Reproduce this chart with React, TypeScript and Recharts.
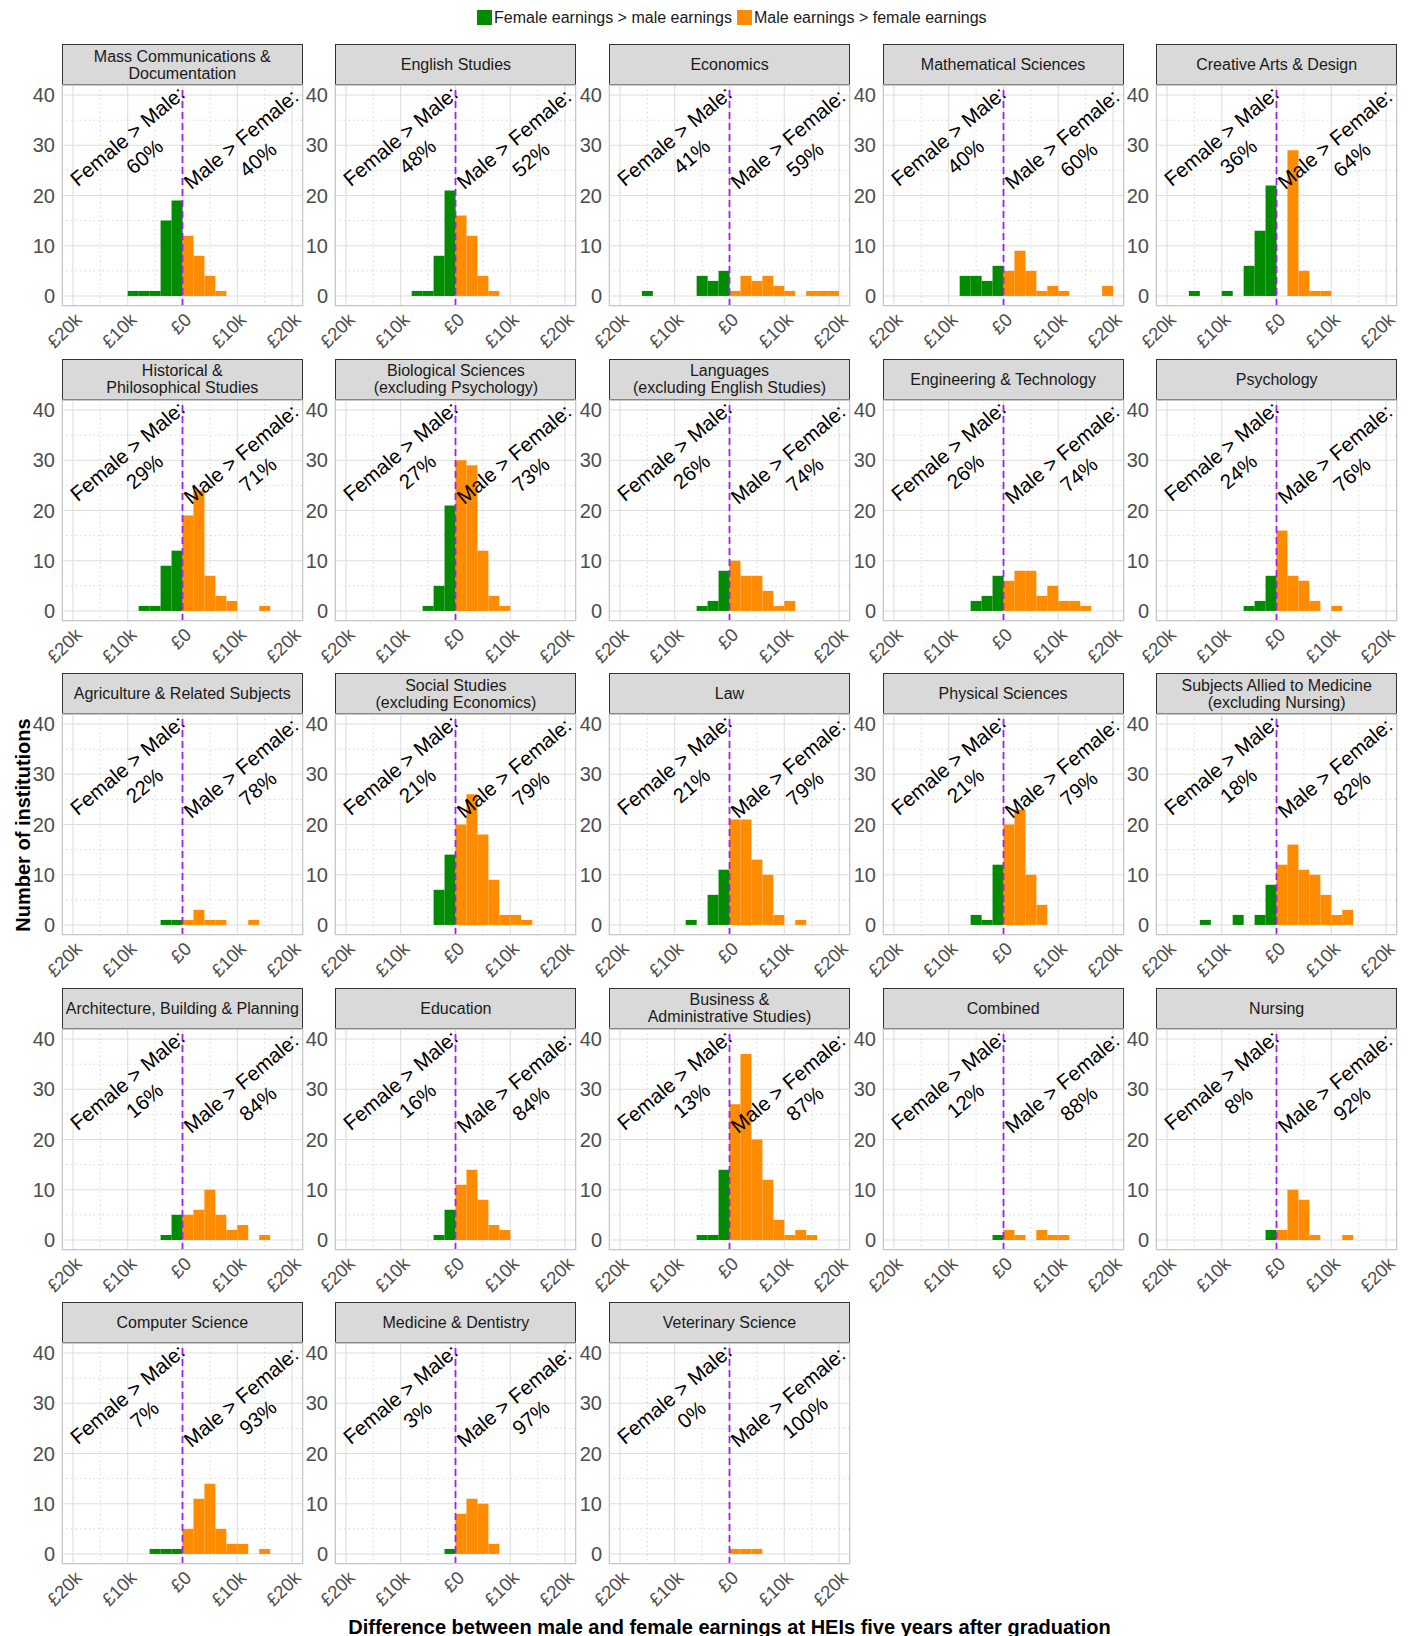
import React from 'react';
import { BarChart, Bar, XAxis, YAxis, CartesianGrid, ReferenceLine, ReferenceDot } from 'recharts';

const FONT = '"Liberation Sans", Arial, Helvetica, sans-serif';

// histogram bins (2k wide), centres
const binCenters = [-21000, -19000, -17000, -15000, -13000, -11000, -9000, -7000, -5000, -3000, -1000, 1000, 3000, 5000, 7000, 9000, 11000, 13000, 15000, 17000, 19000, 21000];
const xMajorTicks = [-20000, -10000, 0, 10000, 20000];
const xMinorTicks = [-15000, -5000, 5000, 15000];
const yMajorTicks = [0, 10, 20, 30, 40];
const yMinorTicks = [5, 15, 25, 35];

const panelTitles = [
  'Mass Communications &\nDocumentation',
  'English Studies',
  'Economics',
  'Mathematical Sciences',
  'Creative Arts & Design',
  'Historical &\nPhilosophical Studies',
  'Biological Sciences\n(excluding Psychology)',
  'Languages\n(excluding English Studies)',
  'Engineering & Technology',
  'Psychology',
  'Agriculture & Related Subjects',
  'Social Studies\n(excluding Economics)',
  'Law',
  'Physical Sciences',
  'Subjects Allied to Medicine\n(excluding Nursing)',
  'Architecture, Building & Planning',
  'Education',
  'Business &\nAdministrative Studies)',
  'Combined',
  'Nursing',
  'Computer Science',
  'Medicine & Dentistry',
  'Veterinary Science',
];

const femaleSharePct = [60, 48, 41, 40, 36, 29, 27, 26, 26, 24, 22, 21, 21, 21, 18, 16, 16, 13, 12, 8, 7, 3, 0];
const maleSharePct = [40, 52, 59, 60, 64, 71, 73, 74, 74, 76, 78, 79, 79, 79, 82, 84, 84, 87, 88, 92, 93, 97, 100];

// counts per 2k bin, from -22k..-20k up to 20k..22k
const massCommunications = [0, 0, 0, 0, 0, 0, 1, 1, 1, 15, 19, 12, 8, 4, 1, 0, 0, 0, 0, 0, 0, 0];
const englishStudies = [0, 0, 0, 0, 0, 0, 0, 1, 1, 8, 21, 16, 12, 4, 1, 0, 0, 0, 0, 0, 0, 0];
const economics = [0, 0, 0, 1, 0, 0, 0, 0, 4, 3, 5, 1, 4, 3, 4, 2, 1, 0, 1, 1, 1, 0];
const mathematicalSciences = [0, 0, 0, 0, 0, 0, 0, 4, 4, 3, 6, 5, 9, 5, 1, 2, 1, 0, 0, 0, 2, 0];
const creativeArts = [0, 0, 0, 1, 0, 0, 1, 0, 6, 13, 22, 0, 29, 5, 1, 1, 0, 0, 0, 0, 0, 0];
const historical = [0, 0, 0, 0, 0, 0, 0, 1, 1, 9, 12, 19, 24, 7, 3, 2, 0, 0, 1, 0, 0, 0];
const biological = [0, 0, 0, 0, 0, 0, 0, 0, 1, 5, 21, 30, 29, 12, 3, 1, 0, 0, 0, 0, 0, 0];
const languages = [0, 0, 0, 0, 0, 0, 0, 0, 1, 2, 8, 10, 7, 7, 4, 1, 2, 0, 0, 0, 0, 0];
const engineering = [0, 0, 0, 0, 0, 0, 0, 0, 2, 3, 7, 6, 8, 8, 3, 5, 2, 2, 1, 0, 0, 0];
const psychology = [0, 0, 0, 0, 0, 0, 0, 0, 1, 2, 7, 16, 7, 6, 2, 0, 1, 0, 0, 0, 0, 0];
const agriculture = [0, 0, 0, 0, 0, 0, 0, 0, 0, 1, 1, 1, 3, 1, 1, 0, 0, 1, 0, 0, 0, 0];
const socialStudies = [0, 0, 0, 0, 0, 0, 0, 0, 0, 7, 14, 20, 26, 18, 9, 2, 2, 1, 0, 0, 0, 0];
const law = [0, 0, 0, 0, 0, 0, 0, 1, 0, 6, 11, 21, 21, 13, 10, 2, 0, 1, 0, 0, 0, 0];
const physicalSciences = [0, 0, 0, 0, 0, 0, 0, 0, 2, 1, 12, 20, 23, 10, 4, 0, 0, 0, 0, 0, 0, 0];
const alliedToMedicine = [0, 0, 0, 0, 1, 0, 0, 2, 0, 2, 8, 12, 16, 11, 10, 6, 2, 3, 0, 0, 0, 0];
const architecture = [0, 0, 0, 0, 0, 0, 0, 0, 0, 1, 5, 5, 6, 10, 5, 2, 3, 0, 1, 0, 0, 0];
const education = [0, 0, 0, 0, 0, 0, 0, 0, 0, 1, 6, 11, 14, 8, 3, 2, 0, 0, 0, 0, 0, 0];
const business = [0, 0, 0, 0, 0, 0, 0, 0, 1, 1, 14, 27, 37, 20, 12, 4, 1, 2, 1, 0, 0, 0];
const combined = [0, 0, 0, 0, 0, 0, 0, 0, 0, 0, 1, 2, 1, 0, 2, 1, 1, 0, 0, 0, 0, 0];
const nursing = [0, 0, 0, 0, 0, 0, 0, 0, 0, 0, 2, 2, 10, 8, 1, 0, 0, 1, 0, 0, 0, 0];
const computerScience = [0, 0, 0, 0, 0, 0, 0, 0, 1, 1, 1, 5, 11, 14, 5, 2, 2, 0, 1, 0, 0, 0];
const medicine = [0, 0, 0, 0, 0, 0, 0, 0, 0, 0, 1, 8, 11, 10, 2, 0, 0, 0, 0, 0, 0, 0];
const veterinary = [0, 0, 0, 0, 0, 0, 0, 0, 0, 0, 0, 1, 1, 1, 0, 0, 0, 0, 0, 0, 0, 0];

const panelCounts = [
  massCommunications, englishStudies, economics, mathematicalSciences, creativeArts,
  historical, biological, languages, engineering, psychology,
  agriculture, socialStudies, law, physicalSciences, alliedToMedicine,
  architecture, education, business, combined, nursing,
  computerScience, medicine, veterinary,
];

const legendLabels = ['Female earnings > male earnings', 'Male earnings > female earnings'];
const GREEN = '#008B00';
const ORANGE = '#FF8C00';

// annotation anchors (data coordinates)
const leftAnno = { x: -8500, y: 29.8 };
const rightAnno = { x: 12200, y: 29.2 };

// layout
const PLOT_W = 241;
const PLOT_H = 221;
const STRIP_H = 41;
const Y_W = 50;
const X_H = 55;
const R_M = 4;
const T_M = 12;
const COL0 = 61.8;
const COL_STEP = 273.6;
const ROW0 = 85;
const ROW_STEP = 314.6;

const buildRows = (counts: number[]) =>
  binCenters.map((b, i) => ({
    bin: b,
    female: b < 0 ? counts[i] : 0,
    male: b > 0 ? counts[i] : 0,
  }));

const fmtPound = (v: number) => (v === 0 ? '£0' : `£${Math.abs(v) / 1000}k`);

const XTick = (props: any) => {
  const { x, y, payload } = props;
  return (
    <g transform={`translate(${x + 0.7},${y - 2.5})`}>
      <text transform="rotate(-45)" textAnchor="end" dy="0.72em" fontSize={18.5} fill="#4D4D4D" fontFamily={FONT}>
        {fmtPound(payload.value)}
      </text>
    </g>
  );
};

const YTick = (props: any) => {
  const { x, y, payload } = props;
  return (
    <text x={x} y={y} dy="0.36em" textAnchor="end" fontSize={20} fill="#4D4D4D" fontFamily={FONT}>
      {payload.value}
    </text>
  );
};

const Anno = ({ cx, cy, l1, l2 }: { cx: number; cy: number; l1: string; l2: string }) => (
  <g transform={`translate(${cx},${cy}) rotate(-40)`}>
    <text textAnchor="middle" fontSize={20.5} fontFamily={FONT} fill="#000">
      <tspan x={0} y={-6}>{l1}</tspan>
      <tspan x={0} y={20.5}>{l2}</tspan>
    </text>
  </g>
);

function Panel({ index }: { index: number }) {
  const col = index % 5;
  const row = Math.floor(index / 5);
  const plotLeft = COL0 + col * COL_STEP;
  const plotTop = ROW0 + row * ROW_STEP;
  const data = buildRows(panelCounts[index]);
  return (
    <>
      <div
        style={{
          position: 'absolute',
          left: plotLeft,
          top: plotTop - STRIP_H,
          width: PLOT_W,
          height: STRIP_H,
          boxSizing: 'border-box',
          border: '1px solid #333333',
          background: '#D9D9D9',
          display: 'flex',
          alignItems: 'center',
          justifyContent: 'center',
          textAlign: 'center',
          whiteSpace: 'pre-line',
          fontSize: 16,
          lineHeight: '17px',
          color: '#1A1A1A',
          fontFamily: FONT,
        }}
      >
        {panelTitles[index]}
      </div>
      <div style={{ position: 'absolute', left: plotLeft - Y_W, top: plotTop - T_M }}>
        <BarChart
          width={Y_W + PLOT_W + R_M}
          height={T_M + PLOT_H + X_H}
          data={data}
          margin={{ top: T_M, right: R_M, bottom: 0, left: 0 }}
          barCategoryGap={0}
          barGap={0}
        >
          <CartesianGrid xAxisId="num" stroke="#DEDEDE" strokeWidth={1.1} />
          <CartesianGrid
            xAxisId="num"
            horizontalValues={yMinorTicks}
            verticalValues={xMinorTicks}
            stroke="#CFCFCF"
            strokeDasharray="1.5 3"
            strokeWidth={0.8}
          />
          <XAxis
            xAxisId="num"
            dataKey="bin"
            type="number"
            domain={[-22000, 22000]}
            ticks={xMajorTicks}
            allowDataOverflow
            axisLine={false}
            tickLine={false}
            tickSize={6}
            tickMargin={2}
            height={X_H}
            interval={0}
            tick={<XTick />}
          />
          <XAxis xAxisId="bins" dataKey="bin" type="category" orientation="top" height={0} hide />
          <YAxis
            type="number"
            domain={[-2, 42]}
            ticks={yMajorTicks}
            allowDataOverflow
            axisLine={false}
            tickLine={false}
            tickSize={5}
            tickMargin={2}
            width={Y_W}
            interval={0}
            tick={<YTick />}
          />
          <Bar xAxisId="bins" dataKey="female" stackId="s" fill={GREEN} isAnimationActive={false} />
          <Bar xAxisId="bins" dataKey="male" stackId="s" fill={ORANGE} isAnimationActive={false} />
          <ReferenceLine xAxisId="num" x={0} stroke="#A020F0" strokeDasharray="7 4" strokeWidth={1.8} />
          <ReferenceDot
            xAxisId="num"
            x={leftAnno.x}
            y={leftAnno.y}
            r={0}
            shape={(p: any) => <Anno cx={p.cx} cy={p.cy} l1="Female > Male:" l2={`${femaleSharePct[index]}%`} />}
          />
          <ReferenceDot
            xAxisId="num"
            x={rightAnno.x}
            y={rightAnno.y}
            r={0}
            shape={(p: any) => <Anno cx={p.cx} cy={p.cy} l1="Male > Female:" l2={`${maleSharePct[index]}%`} />}
          />
        </BarChart>
      </div>
      <div
        style={{
          position: 'absolute',
          left: plotLeft,
          top: plotTop,
          width: PLOT_W,
          height: PLOT_H,
          boxSizing: 'border-box',
          border: '1px solid #C8C8C8',
          pointerEvents: 'none',
        }}
      />
    </>
  );
}

export default function App() {
  return (
    <div
      style={{
        position: 'absolute',
        left: 0,
        top: 0,
        width: 1413,
        height: 1636,
        background: '#FFFFFF',
        fontFamily: FONT,
        overflow: 'hidden',
      }}
    >
      {/* legend */}
      <div style={{ position: 'absolute', left: 477, top: 10, width: 15, height: 15, background: GREEN }} />
      <div style={{ position: 'absolute', left: 494, top: 8, fontSize: 16, lineHeight: '19px', color: '#1A1A1A', whiteSpace: 'nowrap' }}>
        {legendLabels[0]}
      </div>
      <div style={{ position: 'absolute', left: 737, top: 10, width: 15, height: 15, background: ORANGE }} />
      <div style={{ position: 'absolute', left: 754, top: 8, fontSize: 16, lineHeight: '19px', color: '#1A1A1A', whiteSpace: 'nowrap' }}>
        {legendLabels[1]}
      </div>

      {panelTitles.map((_, i) => (
        <Panel key={i} index={i} />
      ))}

      {/* axis titles */}
      <div
        style={{
          position: 'absolute',
          left: 23,
          top: 825,
          transform: 'translate(-50%, -50%) rotate(-90deg)',
          fontWeight: 'bold',
          fontSize: 20,
          whiteSpace: 'nowrap',
          color: '#000',
        }}
      >
        Number of institutions
      </div>
      <div
        style={{
          position: 'absolute',
          left: 729.5,
          top: 1627,
          transform: 'translate(-50%, -50%)',
          fontWeight: 'bold',
          fontSize: 20,
          whiteSpace: 'nowrap',
          color: '#000',
        }}
      >
        Difference between male and female earnings at HEIs five years after graduation
      </div>
    </div>
  );
}
